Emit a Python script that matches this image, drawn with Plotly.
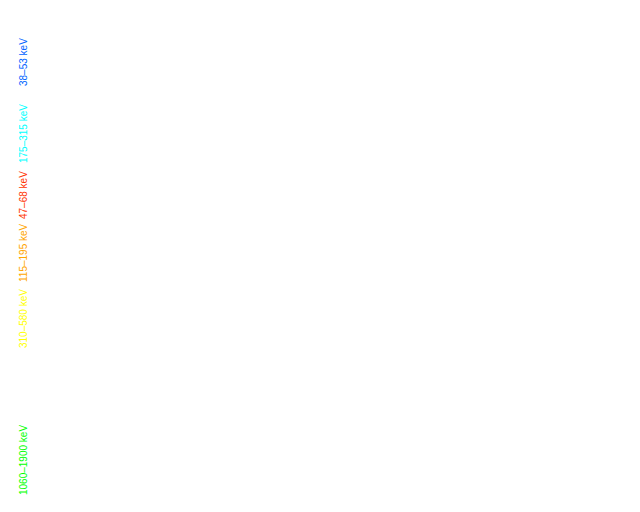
import plotly.graph_objects as go

# energy band labels, top to bottom
band_labels = ["38–53 keV", "175–315 keV", "47–68 keV", "115–195 keV", "310–580 keV", "1060–1900 keV"]
band_colors = ["#0064ff", "#00ffff", "#ff3300", "#ffa500", "#ffff00", "#00ff00"]
label_y = [61, 133, 194, 252, 318, 459]

fig = go.Figure()

for lab, col, y in zip(band_labels, band_colors, label_y):
    fig.add_annotation(x=23, y=y, xref="x", yref="y", text=lab, showarrow=False,
                       textangle=-90, xshift=-8, yshift=7,
                       font=dict(family="Arial", size=10, color=col))

fig.update_xaxes(range=[0, 640], visible=False)
fig.update_yaxes(range=[512, 0], visible=False)
fig.update_layout(width=640, height=512, margin=dict(l=0, r=0, t=0, b=0),
                  paper_bgcolor="white", plot_bgcolor="white", showlegend=False)

fig.write_html("out.html")
